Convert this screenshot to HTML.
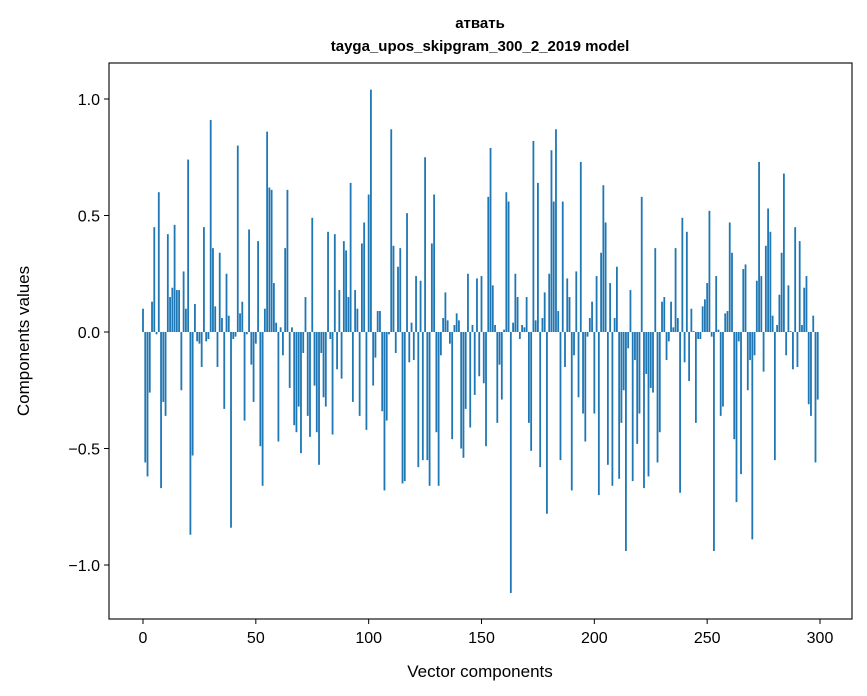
<!DOCTYPE html>
<html><head><meta charset="utf-8"><style>
html,body{margin:0;padding:0;background:#fff;}
svg{display:block;font-family:"Liberation Sans","DejaVu Sans",sans-serif;}
</style></head><body>
<svg id="chart" width="867" height="696" xmlns="http://www.w3.org/2000/svg">
<rect x="0" y="0" width="867" height="696" fill="#fff"/>
<text x="480" y="28" text-anchor="middle" font-size="15" font-weight="bold">атвать</text>
<text x="480" y="51" text-anchor="middle" font-size="15" font-weight="bold">tayga_upos_skipgram_300_2_2019 model</text>
<g id="bars"></g>
<g id="axes"></g>
<text x="480" y="677" text-anchor="middle" font-size="17">Vector components</text>
<text transform="translate(29,341) rotate(-90)" text-anchor="middle" font-size="17">Components values</text>
</svg>
<script>
const values = [0.10,-0.56,-0.62,-0.26,0.13,0.45,-0.01,0.60,-0.67,-0.30,
-0.36,0.42,0.15,0.19,0.46,0.18,0.18,-0.25,0.26,0.10,
0.74,-0.87,-0.53,0.12,-0.04,-0.05,-0.15,0.45,-0.04,-0.03,
0.91,0.36,0.11,-0.15,0.34,0.06,-0.33,0.25,0.07,-0.84,
-0.03,-0.02,0.80,0.08,0.13,-0.38,-0.01,0.44,-0.14,-0.30,
-0.05,0.39,-0.49,-0.66,0.10,0.86,0.62,0.61,0.21,0.04,
-0.47,0.02,-0.10,0.36,0.61,-0.24,0.02,-0.40,-0.43,-0.32,
-0.52,-0.09,0.15,-0.36,-0.45,0.49,-0.23,-0.43,-0.57,-0.09,
-0.28,-0.32,0.43,-0.03,-0.44,0.42,-0.16,0.18,-0.20,0.39,
0.35,0.15,0.64,-0.30,0.18,0.10,-0.36,0.38,0.47,-0.42,
0.59,1.04,-0.23,-0.11,0.09,0.09,-0.34,-0.68,-0.38,-0.01,
0.87,0.37,-0.09,0.28,0.36,-0.65,-0.64,0.51,-0.13,0.04,
-0.12,0.24,-0.58,0.22,-0.55,0.75,-0.55,-0.66,0.38,0.59,
-0.43,-0.66,-0.10,0.06,0.17,0.05,-0.05,-0.46,0.03,0.08,
0.05,-0.50,-0.54,-0.33,0.25,-0.41,0.03,-0.27,0.23,-0.19,
0.24,-0.22,-0.49,0.58,0.79,0.20,0.03,-0.39,-0.14,-0.29,
0.01,0.60,0.56,-1.12,0.04,0.25,0.15,-0.03,0.03,0.02,
0.15,-0.39,-0.51,0.82,0.05,0.64,-0.58,0.06,0.17,-0.78,
0.25,0.78,0.56,0.87,0.09,-0.55,0.56,-0.15,0.23,0.15,
-0.68,-0.10,0.26,-0.28,0.73,-0.35,-0.47,-0.02,0.06,0.13,
-0.35,0.24,-0.70,0.34,0.63,0.47,-0.57,0.21,-0.66,0.06,
0.28,-0.63,-0.39,-0.25,-0.94,-0.07,0.18,-0.64,-0.12,-0.48,
-0.35,0.58,-0.67,-0.18,-0.62,-0.24,-0.26,0.36,-0.56,-0.43,
0.13,0.15,-0.12,-0.04,0.13,0.02,0.36,0.06,-0.69,0.49,
-0.13,0.43,-0.21,0.10,0.004,-0.39,-0.03,-0.03,0.11,0.14,
0.21,0.52,-0.02,-0.94,0.24,0.01,-0.36,-0.32,0.08,0.09,
0.47,0.34,-0.46,-0.73,-0.04,-0.61,0.27,0.29,-0.25,-0.12,
-0.89,-0.10,0.22,0.73,0.24,-0.17,0.37,0.53,0.43,0.07,
-0.55,0.03,0.16,0.34,0.68,-0.10,0.20,0.004,-0.16,0.45,
-0.15,0.39,0.03,0.19,0.24,-0.31,-0.36,0.07,-0.56,-0.29];
const xTicks = [0,50,100,150,200,250,300];
const yTicks = [-1.0,-0.5,0.0,0.5,1.0];
const yTickLabels = ["\u22121.0","\u22120.5","0.0","0.5","1.0"];

const PL=109, PR=852, PT=63, PB=619;
function xs(v){return 143 + v*(820-143)/300;}
function ys(v){return 332 - v*233;}
const NS="http://www.w3.org/2000/svg";
const barsG=document.getElementById('bars');
const bw = 0.8*(820-143)/300;
values.forEach((v,i)=>{
  const r=document.createElementNS(NS,'rect');
  const y0=ys(0), y1=ys(v);
  r.setAttribute('x', xs(i)-bw/2);
  r.setAttribute('y', Math.min(y0,y1));
  r.setAttribute('width', bw);
  r.setAttribute('height', Math.max(Math.abs(y1-y0),0.3));
  r.setAttribute('fill','#1f77b4');
  
  
  barsG.appendChild(r);
});
const ax=document.getElementById('axes');
const frame=document.createElementNS(NS,'rect');
frame.setAttribute('x',PL);frame.setAttribute('y',PT);
frame.setAttribute('width',PR-PL);frame.setAttribute('height',PB-PT);
frame.setAttribute('fill','none');frame.setAttribute('stroke','#000');frame.setAttribute('stroke-width','1.1');


ax.appendChild(frame);
xTicks.forEach(t=>{
  const x=xs(t);
  const l=document.createElementNS(NS,'line');
  l.setAttribute('x1',x);l.setAttribute('x2',x);l.setAttribute('y1',PB);l.setAttribute('y2',PB+5);
  l.setAttribute('stroke','#000');
  
  
  ax.appendChild(l);
  const tx=document.createElementNS(NS,'text');
  tx.setAttribute('x',x);tx.setAttribute('y',PB+24);tx.setAttribute('text-anchor','middle');tx.setAttribute('font-size','16');
  tx.textContent=t;
  
  
  ax.appendChild(tx);
});
yTicks.forEach((t,i)=>{
  const y=ys(t);
  const l=document.createElementNS(NS,'line');
  l.setAttribute('x1',PL-5);l.setAttribute('x2',PL);l.setAttribute('y1',y);l.setAttribute('y2',y);
  l.setAttribute('stroke','#000');
  
  
  ax.appendChild(l);
  const tx=document.createElementNS(NS,'text');
  tx.setAttribute('x',PL-9);tx.setAttribute('y',y+6);tx.setAttribute('text-anchor','end');tx.setAttribute('font-size','16');
  tx.textContent=yTickLabels[i];
  
  
  ax.appendChild(tx);
});
</script>
</body></html>
